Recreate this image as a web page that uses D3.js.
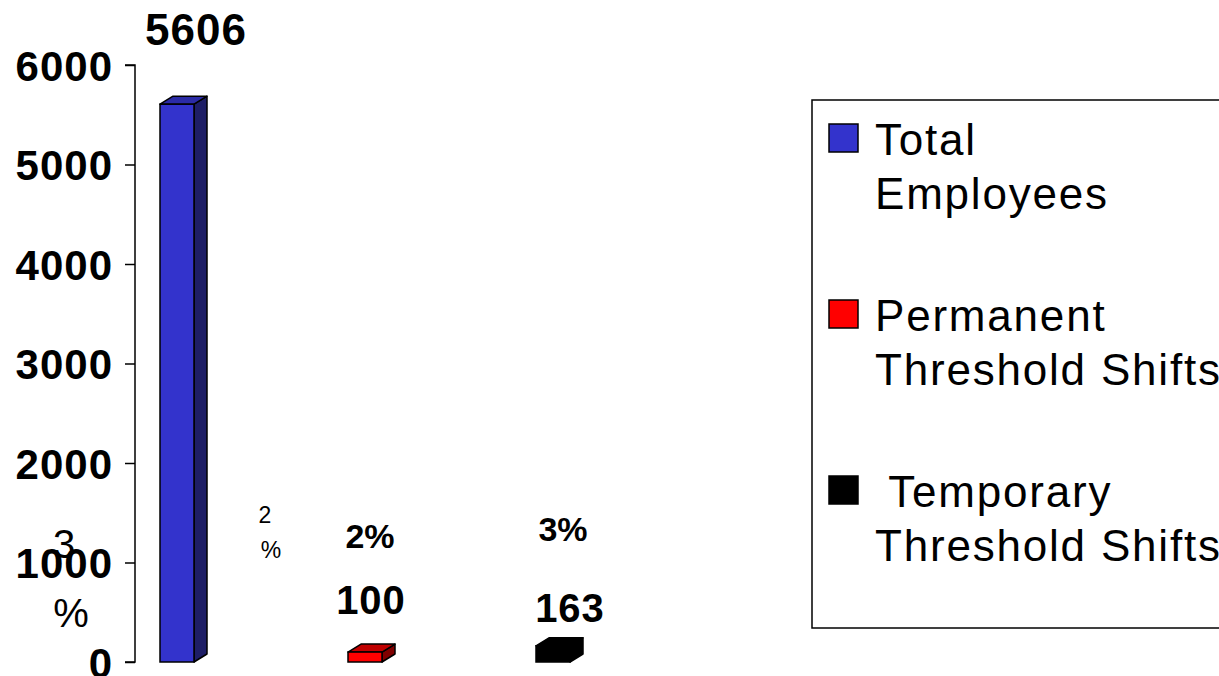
<!DOCTYPE html>
<html>
<head>
<meta charset="utf-8">
<script src="https://cdn.jsdelivr.net/npm/d3@7"></script>
<style>
  body { margin: 0; background: #fff; }
  svg { display: block; font-family: Arial, "Liberation Sans", sans-serif; }
</style>
</head>
<body>
<svg id="chart" width="1219" height="676"></svg>
<script>
// data
var seriesNames = ["Total Employees", "Permanent Threshold Shifts", "Temporary Threshold Shifts"];
var seriesValues = [5606, 100, 163];
var percentLabels = ["", "2%", "3%"];
var tickValues = [0, 1000, 2000, 3000, 4000, 5000, 6000];
var legendLines = [["Total", "Employees"], ["Permanent", "Threshold Shifts"], [" Temporary", "Threshold Shifts"]];
var frontColors = ["#3333CC", "#FF0000", "#000000"];
var topColors = ["#2B2BA6", "#C00000", "#000000"];
var sideColors = ["#1E1E66", "#800000", "#000000"];

var svg = d3.select("#chart");
var axisX = 135;
var y = d3.scaleLinear().domain([0, 6000]).range([662, 65]);
var x = d3.scalePoint().domain(seriesNames).range([177, 553]);
var barW = 34, dx = 13, dy = -8;

// y axis
var yAxis = d3.axisLeft(y).tickValues(tickValues).tickSize(10).tickPadding(12).tickFormat(d3.format("d"));
var ag = svg.append("g").attr("transform", "translate(" + axisX + ",0)").call(yAxis);
ag.select(".domain").attr("stroke", "#000").attr("stroke-width", 1.5).attr("d", "M-10," + y(6000) + "H0V" + y(0) + "H-10");
ag.selectAll(".tick line").attr("stroke", "#000").attr("stroke-width", 1.5);
ag.selectAll(".tick text").attr("fill", "#000").style("font-size", "42px").style("font-weight", "bold")
  .style("letter-spacing", "1px").attr("dy", "0.36em");

// bars (3D look)
var bars = svg.append("g").selectAll("g").data(seriesNames).enter().append("g");
bars.each(function(name, i) {
  var g = d3.select(this);
  var x0 = x(name) - barW / 2, x1 = x0 + barW;
  var yt = y(seriesValues[i]), yb = y(0);
  g.append("path")
    .attr("d", "M" + x1 + "," + yt + "L" + (x1 + dx) + "," + (yt + dy) + "L" + (x1 + dx) + "," + (yb + dy) + "L" + x1 + "," + yb + "Z")
    .attr("fill", sideColors[i]).attr("stroke", "#000").attr("stroke-width", 1.5).attr("stroke-linejoin", "round");
  g.append("path")
    .attr("d", "M" + x0 + "," + yt + "L" + (x0 + dx) + "," + (yt + dy) + "L" + (x1 + dx) + "," + (yt + dy) + "L" + x1 + "," + yt + "Z")
    .attr("fill", topColors[i]).attr("stroke", "#000").attr("stroke-width", 1.5).attr("stroke-linejoin", "round");
  g.append("rect")
    .attr("x", x0).attr("y", yt).attr("width", barW).attr("height", yb - yt)
    .attr("fill", frontColors[i]).attr("stroke", "#000").attr("stroke-width", 1.5);
});

// value labels
var valOffset = [[19, -59], [6, -38], [17, -24]];
svg.append("g").selectAll("text").data(seriesValues).enter().append("text")
  .attr("x", function(d, i) { return x(seriesNames[i]) + valOffset[i][0]; })
  .attr("y", function(d, i) { return y(d) + valOffset[i][1]; })
  .attr("text-anchor", "middle")
  .style("font-size", function(d, i) { return i === 0 ? "44px" : "40px"; })
  .style("font-weight", "bold").style("letter-spacing", "1px")
  .text(function(d) { return d; });

// percent labels
var pctY = [0, 548, 541];
var pctOffset = [0, 5, 10];
svg.append("g").selectAll("text").data(percentLabels).enter().append("text")
  .attr("x", function(d, i) { return x(seriesNames[i]) + pctOffset[i]; })
  .attr("y", function(d, i) { return pctY[i]; })
  .attr("text-anchor", "middle")
  .style("font-size", "34px").style("font-weight", "bold")
  .text(function(d) { return d; });

// stray wrapped percent labels
var stray = svg.append("g");
stray.append("text").attr("x", 265).attr("y", 523).attr("text-anchor", "middle").style("font-size", "23px").text("2");
stray.append("text").attr("x", 271).attr("y", 558).attr("text-anchor", "middle").style("font-size", "23px").text("%");
stray.append("text").attr("x", 64).attr("y", 558).attr("text-anchor", "middle").style("font-size", "40px").text("3");
stray.append("text").attr("x", 71).attr("y", 627).attr("text-anchor", "middle").style("font-size", "40px").text("%");

// legend
var lg = svg.append("g");
lg.append("rect").attr("x", 812).attr("y", 100).attr("width", 420).attr("height", 528)
  .attr("fill", "none").attr("stroke", "#000").attr("stroke-width", 1.5);
var legY = [124, 300, 476];
var items = lg.selectAll("g.item").data(seriesNames).enter().append("g").attr("class", "item")
  .attr("transform", function(d, i) { return "translate(829," + legY[i] + ")"; });
items.append("rect").attr("width", 29).attr("height", 28)
  .attr("fill", function(d, i) { return frontColors[i]; })
  .attr("stroke", "#000").attr("stroke-width", 1.5);
items.each(function(d, i) {
  var t = d3.select(this).append("text").attr("x", 46).attr("y", 31).style("font-size", "44px")
    .style("letter-spacing", "1.8px").attr("xml:space", "preserve");
  legendLines[i].forEach(function(line, j) {
    t.append("tspan").attr("x", 46).attr("dy", j === 0 ? 0 : 54).text(line);
  });
});
</script>
</body>
</html>
